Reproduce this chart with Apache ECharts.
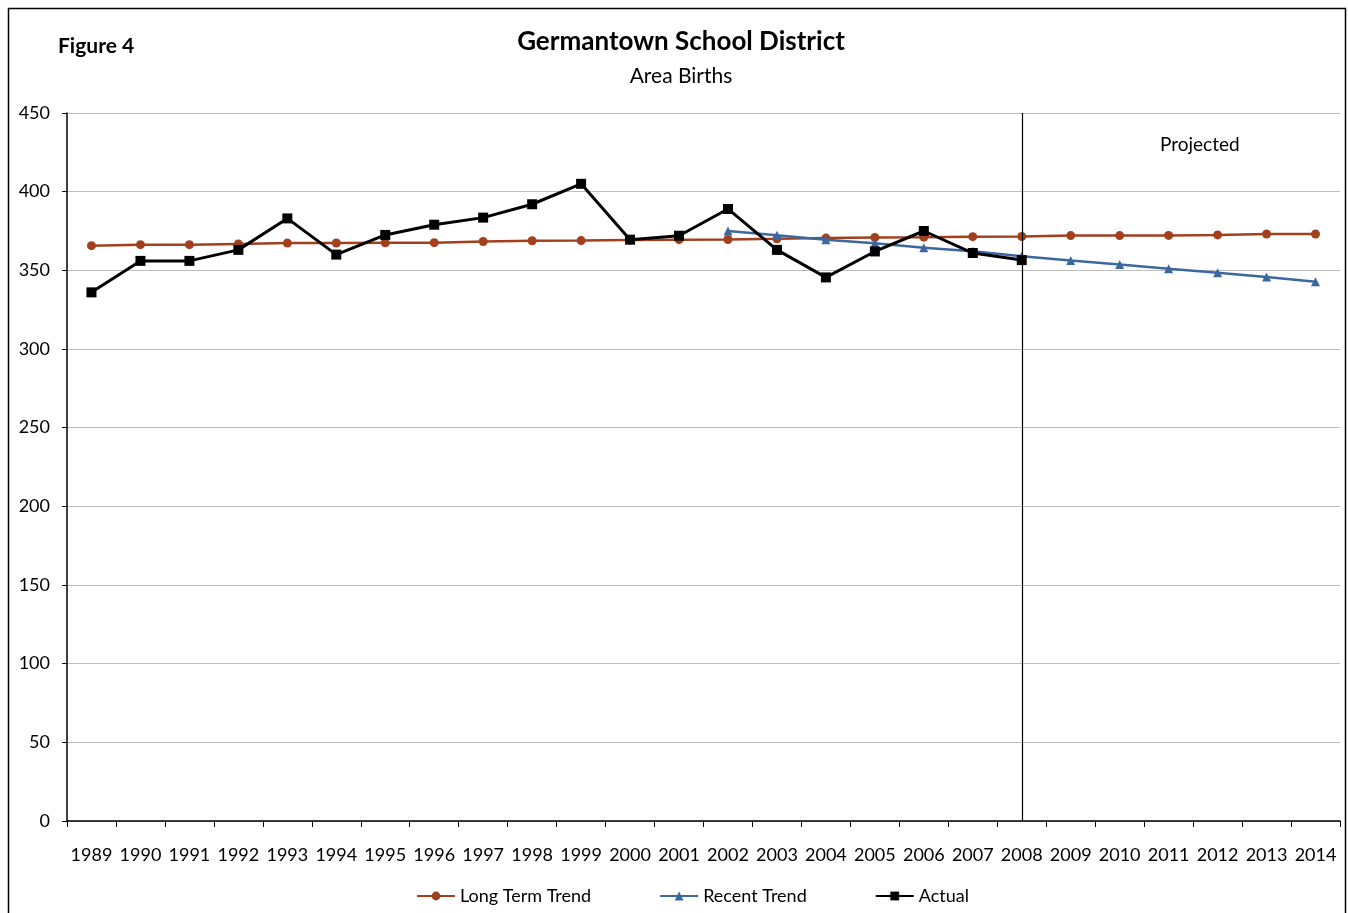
<!DOCTYPE html>
<html>
<head>
<meta charset="utf-8">
<title>Germantown School District - Area Births</title>
<script src="https://cdn.jsdelivr.net/npm/echarts@6/dist/echarts.min.js"></script>
<style>
    html, body { margin: 0; padding: 0; background: #fff; }
    #chart { width: 1348px; height: 913px; }
</style>
</head>
<body>
<div id="chart"></div>
<script>
    var years = ['1989', '1990', '1991', '1992', '1993', '1994', '1995', '1996', '1997',
        '1998', '1999', '2000', '2001', '2002', '2003', '2004', '2005', '2006', '2007',
        '2008', '2009', '2010', '2011', '2012', '2013', '2014'];

    var longTermTrend = [365.7, 366.3, 366.3, 366.8, 367.3, 367.4, 367.5, 367.6, 368.3,
        368.8, 368.9, 369.3, 369.5, 369.6, 370, 370.5, 370.9, 371.1, 371.4,
        371.5, 372.1, 372.1, 372.2, 372.5, 373.1, 373.1];

    var recentTrend = [null, null, null, null, null, null, null, null, null,
        null, null, null, null, 375, 372.3, 369.5, 367.2, 364.3, 362.2,
        359, 356.2, 353.7, 351, 348.4, 345.8, 342.8];

    var actual = [336, 356, 356, 363, 383, 360, 372.5, 379, 383.5,
        392, 405, 369.5, 372, 389, 363, 345.5, 362, 375, 361,
        356.5, null, null, null, null, null, null];

    var projectedFrom = '2008';

    var font = 'Lato, "Open Sans", sans-serif';

    var chart = echarts.init(document.getElementById('chart'));

    var option = {
        animation: false,
        textStyle: { fontFamily: font },
        graphic: [
            {
                type: 'rect', silent: true,
                shape: { x: 8.5, y: 8.5, width: 1337, height: 930 },
                style: { fill: 'none', stroke: '#000', lineWidth: 1.5 }
            },
            {
                type: 'text', left: 58, top: 36,
                style: { text: 'Figure 4', font: 'bold 21px ' + font, fill: '#000' }
            },
            {
                type: 'text', left: 1160, top: 135,
                style: { text: 'Projected', font: '19px ' + font, fill: '#000' }
            }
        ],
        title: {
            text: 'Germantown School District',
            subtext: 'Area Births',
            left: 676,
            textAlign: 'center',
            top: 24,
            itemGap: 11,
            textStyle: { fontFamily: font, fontSize: 26, fontWeight: 'bold', color: '#000' },
            subtextStyle: { fontFamily: font, fontSize: 21, color: '#000' }
        },
        legend: {
            bottom: 3,
            left: 411,
            itemGap: 68,
            itemWidth: 38,
            itemHeight: 11,
            textStyle: { fontFamily: font, fontSize: 18, color: '#000' },
            data: ['Long Term Trend', 'Recent Trend', 'Actual']
        },
        grid: { left: 67, right: 8, top: 113, bottom: 92 },
        xAxis: {
            type: 'category',
            data: years,
            boundaryGap: true,
            axisLine: { lineStyle: { color: '#000', width: 1.5 } },
            axisTick: { show: true, interval: 0, length: 6, lineStyle: { color: '#000' } },
            axisLabel: { interval: 0, margin: 25, fontSize: 18, color: '#000', fontFamily: font },
            splitLine: { show: false }
        },
        yAxis: {
            type: 'value',
            min: 0,
            max: 450,
            interval: 50,
            axisLine: { show: true, lineStyle: { color: '#000', width: 1.5 } },
            axisTick: { show: true, length: 5, lineStyle: { color: '#000' } },
            axisLabel: { margin: 17, fontSize: 18, color: '#000', fontFamily: font },
            splitLine: { show: true, lineStyle: { color: '#bdbdbd', width: 1.2 } }
        },
        series: [
            {
                name: 'Long Term Trend',
                type: 'line',
                data: longTermTrend,
                symbol: 'circle',
                symbolSize: 9,
                itemStyle: { color: '#A2401E' },
                lineStyle: { color: '#A2401E', width: 2.5 },
                z: 2
            },
            {
                name: 'Recent Trend',
                type: 'line',
                data: recentTrend,
                symbol: 'triangle',
                symbolSize: 9,
                itemStyle: { color: '#3B689E' },
                lineStyle: { color: '#3B689E', width: 2.5 },
                z: 3
            },
            {
                name: 'Actual',
                type: 'line',
                data: actual,
                symbol: 'rect',
                symbolSize: 10,
                itemStyle: { color: '#000' },
                lineStyle: { color: '#000', width: 3 },
                z: 4,
                markLine: {
                    silent: true,
                    symbol: 'none',
                    label: { show: false },
                    lineStyle: { color: '#000', width: 1.2, type: 'solid' },
                    data: [{ xAxis: projectedFrom }]
                }
            }
        ]
    };

    chart.setOption(option);
</script>
</body>
</html>
